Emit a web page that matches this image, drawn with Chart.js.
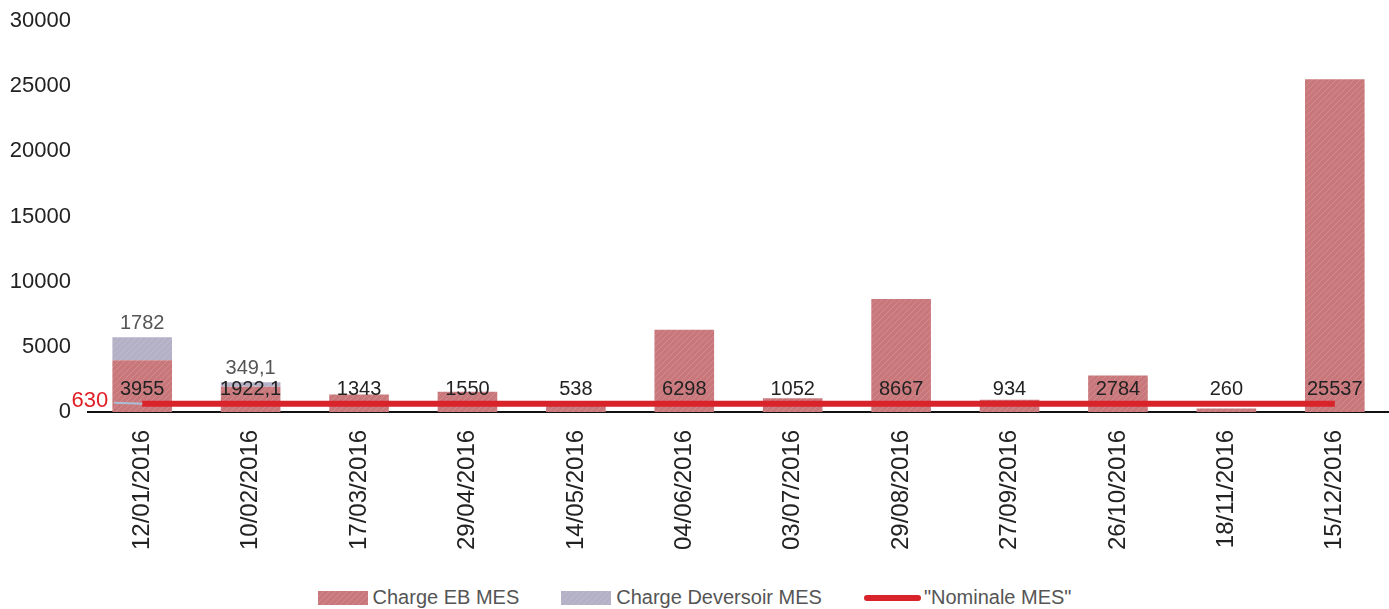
<!DOCTYPE html>
<html>
<head>
<meta charset="utf-8">
<script src="https://cdn.jsdelivr.net/npm/chart.js@4.4.1/dist/chart.umd.min.js"></script>
<style>
  body { margin: 0; background: #fff; font-family: "Liberation Sans", Arial, sans-serif; }
  #wrap { position: relative; width: 1389px; height: 609px; }
  #chart { position: absolute; left: 0; top: 0; }
  #legend { position: absolute; left: 0; top: 586px; width: 1389px; display: flex; justify-content: center; align-items: center; color: #555; font-size: 20px; }
  .item { display: flex; align-items: center; margin: 0 21px; }
  .box { width: 50px; height: 14px; margin-right: 5px; }
  .ln { width: 57px; height: 6px; background: #d9232a; margin-right: 3px; border-radius: 3px; }
</style>
</head>
<body>
<div id="wrap">
  <canvas id="chart" width="1389" height="572"></canvas>
  <div id="legend">
    <div class="item"><div class="box" id="boxEB"></div>Charge EB MES</div>
    <div class="item"><div class="box" id="boxDev"></div>Charge Deversoir MES</div>
    <div class="item"><div class="ln"></div>"Nominale MES"</div>
  </div>
</div>
<script>
const dates = ['12/01/2016', '10/02/2016', '17/03/2016', '29/04/2016', '14/05/2016', '04/06/2016',
    '03/07/2016', '29/08/2016', '27/09/2016', '26/10/2016', '18/11/2016', '15/12/2016'];
const chargeEB = [3955, 1922.1, 1343, 1550, 538, 6298, 1052, 8667, 934, 2784, 260, 25537];
const chargeDeversoir = [1782, 349.1, null, null, null, null, null, null, null, null, null, null];
const nominale = [630, 630, 630, 630, 630, 630, 630, 630, 630, 630, 630, 630];
const yTicks = [0, 5000, 10000, 15000, 20000, 25000, 30000];

const makePattern = (base, stripe) => {
    const c = document.createElement('canvas');
    c.width = 6; c.height = 6;
    const g = c.getContext('2d');
    g.fillStyle = base;
    g.fillRect(0, 0, 6, 6);
    g.strokeStyle = stripe;
    g.lineWidth = 1;
    g.beginPath();
    g.moveTo(0, 6); g.lineTo(6, 0);
    g.moveTo(-3, 3); g.lineTo(3, -3);
    g.moveTo(3, 9); g.lineTo(9, 3);
    g.stroke();
    return c;
};

const ebTile = makePattern('#c8777b', '#d38a8e');
const devTile = makePattern('#b4b1c7', '#bdbbcf');
document.getElementById('boxEB').style.background = `url(${ebTile.toDataURL()})`;
document.getElementById('boxDev').style.background = `url(${devTile.toDataURL()})`;

const ctx = document.getElementById('chart').getContext('2d');
const ebFill = ctx.createPattern(ebTile, 'repeat');
const devFill = ctx.createPattern(devTile, 'repeat');

const fmt = v => String(v).replace('.', ',');

const labelsPlugin = {
    id: 'barLabels',
    afterDatasetsDraw(chart) {
        const c = chart.ctx;
        const y = chart.scales.y;
        const base = y.getPixelForValue(0);
        c.save();
        c.font = '20px "Liberation Sans", Arial, sans-serif';
        c.textAlign = 'center';
        c.textBaseline = 'middle';

        // EB labels sit just above the base
        c.fillStyle = '#222';
        chart.getDatasetMeta(0).data.forEach((bar, i) => {
            c.fillText(fmt(chargeEB[i]), bar.x, base - 22);
        });

        // Deversoir labels above the stack
        c.fillStyle = '#555';
        chart.getDatasetMeta(1).data.forEach((bar, i) => {
            if (chargeDeversoir[i] == null) return;
            c.fillText(fmt(chargeDeversoir[i]), bar.x, bar.y - 14);
        });

        // nominal value label on the left
        const p = chart.getDatasetMeta(2).data[0];
        c.strokeStyle = '#a9bfd6';
        c.lineWidth = 2;
        c.beginPath();
        c.moveTo(p.x - 28, p.y - 1);
        c.lineTo(p.x, p.y);
        c.stroke();
        c.fillStyle = '#e01e25';
        c.font = '22px "Liberation Sans", Arial, sans-serif';
        c.textAlign = 'right';
        c.fillText(String(nominale[0]), p.x - 34, p.y - 3);
        c.restore();
    }
};

new Chart(ctx, {
    data: {
        labels: dates,
        datasets: [
            {
                type: 'bar',
                label: 'Charge EB MES',
                data: chargeEB,
                backgroundColor: ebFill,
                categoryPercentage: 0.55,
                barPercentage: 1,
                order: 2
            },
            {
                type: 'bar',
                label: 'Charge Deversoir MES',
                data: chargeDeversoir,
                backgroundColor: devFill,
                categoryPercentage: 0.55,
                barPercentage: 1,
                order: 2
            },
            {
                type: 'line',
                label: '"Nominale MES"',
                data: nominale,
                borderColor: '#d9232a',
                borderWidth: 6,
                pointRadius: 0,
                fill: false,
                order: 0
            }
        ]
    },
    options: {
        responsive: false,
        animation: false,
        layout: { padding: { left: 10, top: 21, right: 0, bottom: 4 } },
        plugins: {
            legend: { display: false },
            tooltip: { enabled: false }
        },
        scales: {
            x: {
                stacked: true,
                grid: { display: false, drawTicks: false },
                border: { display: true, color: '#111', width: 2 },
                ticks: {
                    minRotation: 90,
                    maxRotation: 90,
                    padding: 18,
                    color: '#222',
                    font: { family: '"Liberation Sans", Arial, sans-serif', size: 24 }
                }
            },
            y: {
                stacked: true,
                min: 0,
                max: 30000,
                afterBuildTicks: axis => { axis.ticks = yTicks.map(v => ({ value: v })); },
                afterFit: axis => {
                    axis.width = 78;
                    axis.paddingTop = 0;
                    axis.paddingBottom = 0;
                },
                grid: { display: false, drawTicks: false },
                border: { display: false },
                ticks: {
                    padding: 17,
                    color: '#222',
                    callback: v => String(v),
                    font: { family: '"Liberation Sans", Arial, sans-serif', size: 22 }
                }
            }
        }
    },
    plugins: [labelsPlugin]
});
</script>
</body>
</html>
